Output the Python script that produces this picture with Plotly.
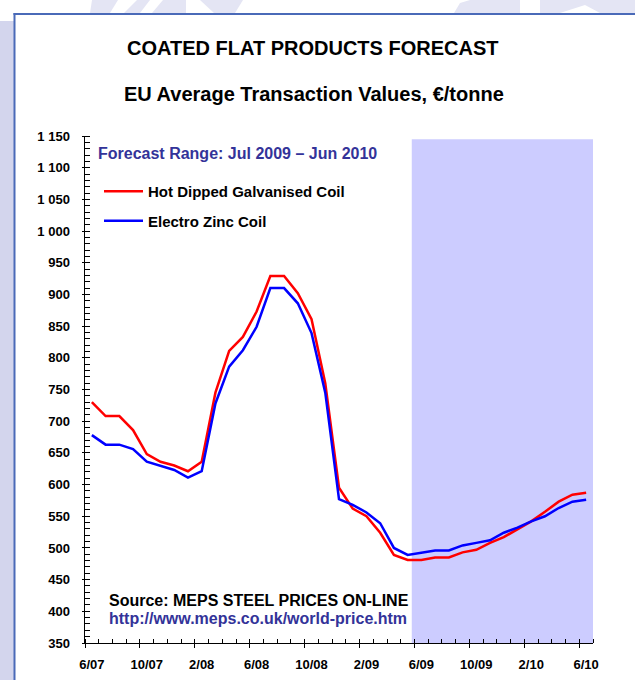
import plotly.graph_objects as go

# ---------------- data ----------------
months = ["6/07", "7/07", "8/07", "9/07", "10/07", "11/07", "12/07", "1/08", "2/08", "3/08",
          "4/08", "5/08", "6/08", "7/08", "8/08", "9/08", "10/08", "11/08", "12/08", "1/09",
          "2/09", "3/09", "4/09", "5/09", "6/09", "7/09", "8/09", "9/09", "10/09", "11/09",
          "12/09", "1/10", "2/10", "3/10", "4/10", "5/10", "6/10"]

hot_dipped = [730, 708, 708, 686, 648, 636, 630, 621, 636, 745,
              811, 833, 873, 929, 929, 902, 861, 760, 595, 562,
              550, 524, 489, 481, 481, 485, 485, 493, 497, 508,
              517, 529, 542, 557, 573, 584, 587]

electro_zinc = [678, 663, 663, 656, 636, 629, 623, 611, 621, 728,
                786, 812, 849, 910, 910, 886, 839, 745, 577, 568,
                556, 539, 500, 489, 493, 496, 496, 504, 508, 512,
                524, 532, 542, 550, 563, 573, 576]

label_every = 4
y_ticks = list(range(350, 1151, 50))
y_ticktext = [f"{v // 1000} {v % 1000:03d}" if v >= 1000 else str(v) for v in y_ticks]

# ---------------- layout helpers ----------------
W, H = 635, 680
L, R, T, B = 85, 593, 136, 643   # plot area in pixels


def px(x):
    return (x - L) / (R - L)


def py(y):
    return (B - y) / (B - T)


FONT = "Liberation Sans, Arial, sans-serif"
DARKBLUE = "#333399"

n = len(months)
xs = list(range(n))
x_range = [-0.5, n - 0.5]
boundaries = [i - 0.5 for i in range(n + 1)]
major_bounds = boundaries[::label_every]
label_pos = xs[::label_every]
label_txt = months[::label_every]

fig = go.Figure()
fig.add_trace(go.Scatter(x=xs, y=hot_dipped, mode="lines", name="Hot Dipped Galvanised Coil",
                         line=dict(color="#ff0000", width=2.5), legendgroup="a"))
fig.add_trace(go.Scatter(x=xs, y=electro_zinc, mode="lines", name="Electro Zinc Coil",
                         line=dict(color="#0000ff", width=2.5), legendgroup="b"))
# empty trace to carry the overlay axes that draw the other half of the major ticks
fig.add_trace(go.Scatter(x=[], y=[], xaxis="x2", yaxis="y2", showlegend=False, hoverinfo="skip"))

tickfont = dict(family=FONT, size=13, color="black", weight="bold")

fig.update_layout(
    width=W, height=H,
    margin=dict(l=L, r=W - R, t=T, b=H - B, pad=0, autoexpand=False),
    paper_bgcolor="white", plot_bgcolor="white",
    showlegend=True,
    legend=dict(x=px(99), y=py(175), xanchor="left", yanchor="top",
                bgcolor="rgba(0,0,0,0)", borderwidth=0, itemwidth=39,
                font=dict(family=FONT, size=15, color="black", weight="bold"),
                tracegroupgap=7, traceorder="grouped"),
    xaxis=dict(range=x_range, tickmode="array", tickvals=label_pos, ticktext=label_txt,
               ticks="", showline=True, linecolor="black", linewidth=1, showgrid=False,
               zeroline=False, tickfont=tickfont, ticklabelstandoff=9, automargin=False,
               minor=dict(tickmode="array", tickvals=boundaries, ticks="inside", ticklen=4.5,
                          tickcolor="black", tickwidth=1, showgrid=False)),
    xaxis2=dict(range=x_range, overlaying="x", anchor="y2", side="bottom", tickmode="array",
                tickvals=major_bounds, ticks="outside", ticklen=3.5, tickcolor="black",
                showticklabels=False, showline=False, showgrid=False, zeroline=False,
                automargin=False),
    yaxis=dict(range=[350, 1150], tickmode="array", tickvals=y_ticks, ticktext=y_ticktext,
               ticks="outside", ticklen=2.5, tickcolor="black", tickwidth=1,
               showline=True, linecolor="black", linewidth=1, showgrid=False, zeroline=False,
               tickfont=tickfont, ticklabelstandoff=9, automargin=False,
               minor=dict(dtick=10, tick0=350, ticks="inside", ticklen=4.5, tickcolor="black",
                          tickwidth=1, showgrid=False)),
    yaxis2=dict(range=[350, 1150], overlaying="y", anchor="x2", side="left", tickmode="array",
                tickvals=y_ticks, ticks="inside", ticklen=4.5, tickcolor="black",
                showticklabels=False, showline=False, showgrid=False, zeroline=False,
                automargin=False),
)

shapes = []
# forecast shading
shapes.append(dict(type="rect", xref="x", yref="y", x0=23.3, x1=n - 0.5, y0=350, y1=1145,
                   fillcolor="#ccccff", line=dict(width=0), layer="below"))
# page decoration: left strip, watermark pieces, frame
LAV = "#d3d5ed"
WM = "#e4e5f4"
shapes.append(dict(type="rect", xref="paper", yref="paper", x0=px(0), x1=px(14), y0=py(680), y1=py(21),
                   fillcolor=LAV, line=dict(width=0), layer="below"))


def poly(pts, color):
    d = "M " + " L ".join(f"{px(a)},{py(b)}" for a, b in pts) + " Z"
    return dict(type="path", xref="paper", yref="paper", path=d, fillcolor=color,
                line=dict(width=0), layer="below")


shapes.append(poly([(90, 13), (92, 0), (118, 0), (110, 13)], WM))
shapes.append(poly([(124, 13), (137, 0), (150, 0), (140, 13)], WM))
shapes.append(poly([(152, 13), (163, 0), (186, 0), (186, 13)], WM))
shapes.append(poly([(200, 0), (243, 0), (235, 13), (214, 13)], WM))
shapes.append(poly([(454, 13), (460, 3), (470, 0), (520, 0), (520, 13)], WM))
shapes.append(poly([(540, 0), (635, 0), (635, 13), (600, 13), (585, 5), (560, 13), (540, 13)], WM))
# frame
shapes.append(dict(type="line", xref="paper", yref="paper", x0=px(14.5), x1=px(14.5), y0=py(690), y1=py(13),
                   line=dict(color="#4a6ab8", width=2), layer="above"))
shapes.append(dict(type="line", xref="paper", yref="paper", x0=px(13.5), x1=px(640), y0=py(14), y1=py(14),
                   line=dict(color="#4a6ab8", width=2), layer="above"))
fig.update_layout(shapes=shapes)

ann = [
    dict(text="COATED FLAT PRODUCTS FORECAST", x=px(312), y=py(48), xanchor="center", yanchor="middle",
         font=dict(family=FONT, size=20, color="black", weight="bold")),
    dict(text="EU Average Transaction Values, €/tonne", x=px(314), y=py(94), xanchor="center",
         yanchor="middle", font=dict(family=FONT, size=20, color="black", weight="bold")),
    dict(text="Forecast Range: Jul 2009 – Jun 2010", x=px(96), y=py(154), xanchor="left",
         yanchor="middle", font=dict(family=FONT, size=16, color=DARKBLUE, weight="bold")),
    dict(text="Source: MEPS STEEL PRICES ON-LINE", x=px(107), y=py(600), xanchor="left",
         yanchor="middle", font=dict(family=FONT, size=16, color="black", weight="bold")),
    dict(text="http://www.meps.co.uk/world-price.htm", x=px(107), y=py(618), xanchor="left",
         yanchor="middle", font=dict(family=FONT, size=16, color=DARKBLUE, weight="bold")),
]
for a in ann:
    a.update(xref="paper", yref="paper", showarrow=False)
fig.update_layout(annotations=ann)

fig.write_html("out.html")
